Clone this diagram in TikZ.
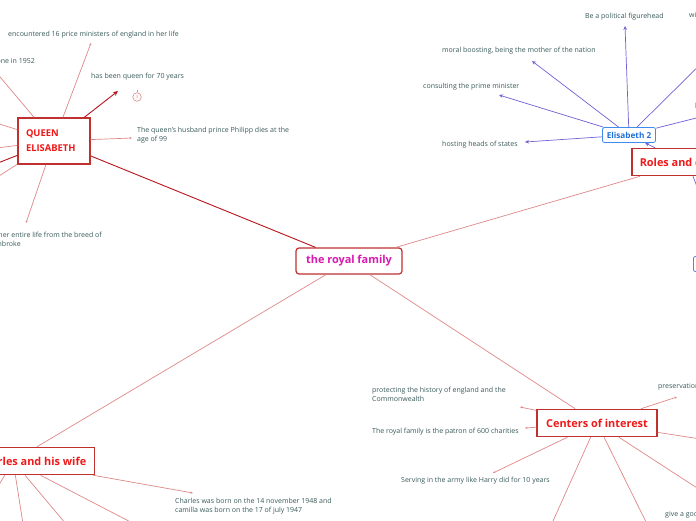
\documentclass[tikz,border=0pt]{standalone}
\usepackage{fontspec}
\setmainfont{Open Sans}
\usetikzlibrary{arrows.meta}
\definecolor{txt}{HTML}{3A5A5A}
\definecolor{lred}{HTML}{E08888}
\definecolor{dred}{HTML}{B8141C}
\definecolor{boxred}{HTML}{C0302F}
\definecolor{redtxt}{HTML}{F01818}
\definecolor{mag}{HTML}{D81AB0}
\definecolor{purp}{HTML}{7262D4}
\definecolor{bblue}{HTML}{3D8DF0}
\definecolor{btxt}{HTML}{1E6FD9}
\begin{document}
\begin{tikzpicture}[x=1pt,y=-1pt,
  lbl/.style={font=\fontsize{7}{9}\selectfont, text=txt, inner sep=0pt, align=left},
  mainbox/.style={draw=boxred, line width=1.5pt, fill=white, font=\fontsize{10.9}{12}\selectfont\bfseries, text=redtxt, minimum height=27pt, inner xsep=8pt},
  rootbox/.style={draw=boxred, line width=1.2pt, rounded corners=3pt, fill=white, font=\fontsize{10.9}{12}\selectfont\bfseries, text=mag, minimum height=26pt, minimum width=106pt},
  qbox/.style={draw=boxred, line width=1.5pt, fill=white, font=\fontsize{9.4}{15}\selectfont\bfseries, text=redtxt, minimum height=46pt, text width=56pt, inner xsep=8pt, align=left},
  bluebox/.style={draw=bblue, line width=0.8pt, rounded corners=2pt, fill=white, font=\fontsize{8.2}{9}\selectfont\bfseries, text=btxt, minimum height=15pt, inner xsep=4pt},
  lline/.style={draw=lred, line width=0.7pt},
  larrow/.style={lline, -{Stealth[length=2.5pt,width=2.2pt]}},
  darrow/.style={draw=dred, line width=0.9pt},
  parrow/.style={draw=purp, line width=0.7pt, -{Stealth[length=4pt,width=3.6pt]}},
]
\useasboundingbox (0,0) rectangle (696,520);
\clip (0,0) rectangle (696,520);
\fill[white] (0,0) rectangle (696,520);

% ---------- main nodes ----------
\node[rootbox] (root) at (349,261) {the royal family};
\node[qbox] (queen) at (54,141) {QUEEN\\ELISABETH};
\node[mainbox, anchor=west] (roles) at (631,162) {Roles and duties};
\node[bluebox, minimum width=53pt] (eli) at (629,135) {Elisabeth 2};
\node[bluebox, anchor=west] (sub) at (693,264) {Prince Charles};
\node[mainbox, minimum width=120pt] (centers) at (597,423) {Centers of interest};
\node[mainbox, anchor=east] (charles) at (95,461) {Prince Charles and his wife};

% ---------- labels ----------
\node[lbl, anchor=west] (tenc) at (8,35) {encountered 16 price ministers of england in her life};
\node[lbl, anchor=east] (tthrone) at (35,61) {ascended the throne in 1952};
\node[lbl, anchor=west] (t70) at (91,77) {has been queen for 70 years};
\node[lbl, anchor=north west] (thus) at (137,126.5) {The queen's husband prince Philipp dies at the\\age of 99};
\node[lbl, anchor=north west] (tcorgi) at (-51,231.5) {She had corgis her entire life from the breed of\\Welsh Corgi Penbroke};
\node[draw=lred, circle, minimum size=8.5pt, inner sep=0pt, line width=0.6pt, font=\fontsize{4}{4}\selectfont, text=lred] (badge) at (137,97) {3};

\node[lbl, anchor=west] (tfigure) at (585,17) {Be a political figurehead};
\node[lbl, anchor=west] (twi) at (689,16) {with the government};
\node[lbl, anchor=west] (tmoral) at (442,51) {moral boosting, being the mother of the nation};
\node[lbl, anchor=west] (tconsult) at (423,87) {consulting the prime minister};
\node[lbl, anchor=west] (thost) at (442,145) {hosting heads of states};
\node[lbl, anchor=west] (tlead) at (695,107) {leading the Church of England};

\node[lbl, anchor=north west] (tprot) at (372,386.5) {protecting the history of england and the\\Commonwealth};
\node[lbl, anchor=west] (tchar) at (372,432) {The royal family is the patron of 600 charities};
\node[lbl, anchor=west] (tarmy) at (401,481) {Serving in the army like Harry did for 10 years};
\node[lbl, anchor=west] (tpres) at (658,387) {preservation of the environment};
\node[lbl, anchor=west] (tgive) at (665,515) {give a good image};

\node[lbl, anchor=north west] (tborn) at (175,497.5) {Charles was born on the 14 november 1948 and\\camilla was born on the 17 of july 1947};

% ---------- free ends ----------
\coordinate (q1) at (91,43);
\coordinate (q2) at (-10,65);
\coordinate (q3) at (118,91);
\coordinate (q4) at (132,138);
\coordinate (q5) at (26,223);
\coordinate (q6) at (-20,118);
\coordinate (q7) at (-20,150);
\coordinate (q8) at (-20,170);
\coordinate (q9) at (-20,188);

\coordinate (e1) at (625,26);
\coordinate (e2) at (532,61);
\coordinate (e3) at (499,95);
\coordinate (e4) at (525,142);
\coordinate (e5) at (720,45);
\coordinate (e6) at (720,112);

\coordinate (c1) at (677,397);
\coordinate (c2) at (720,442);
\coordinate (c3) at (520,407);
\coordinate (c4) at (525,428);
\coordinate (c5) at (493,473);
\coordinate (c6) at (549,530);
\coordinate (c7) at (650,530);
\coordinate (c8) at (711,497);

\coordinate (h1) at (193,493);
\coordinate (h2) at (146,530);
\coordinate (h3) at (71,530);
\coordinate (h4) at (24,530);
\coordinate (h5) at (-7,495);

% ---------- connectors ----------
\draw[darrow] (root) -- (queen);
\draw[lline] (root) -- ([xshift=9pt]roles.south west);
\draw[lline] (root) -- (centers);
\draw[lline] ([xshift=-23pt]root.south) -- (charles);

\draw[larrow] (queen) -- (q1);
\draw[lline] (queen) -- (q2);
\draw[darrow, -{Stealth[length=5pt,width=4.5pt]}] (queen) -- (q3);
\draw[larrow] (queen) -- (q4);
\draw[larrow] (queen) -- (q5);
\draw[lline] (queen) -- (q6);
\draw[lline] (queen) -- (q7);
\draw[darrow] (queen) -- (q8);
\draw[lline] (queen) -- (q9);
\draw[lline, line width=0.6pt] (badge.north) -- ++(0,-2);

\draw[parrow] ([xshift=24pt]roles.north west) -- (eli);
\draw[parrow] ([xshift=62pt]roles.south west) -- (sub);
\draw[parrow] (eli) -- (e1);
\draw[parrow] (eli) -- (e2);
\draw[parrow] (eli) -- (e3);
\draw[parrow] (eli) -- (e4);
\draw[draw=purp, line width=0.7pt] (eli) -- (e5);
\draw[draw=purp, line width=0.7pt] (eli) -- (e6);

\draw[larrow] (centers) -- (c1);
\draw[lline] (centers) -- (c2);
\draw[larrow] (centers) -- (c3);
\draw[larrow] (centers) -- (c4);
\draw[larrow] (centers) -- (c5);
\draw[lline] (centers) -- (c6);
\draw[lline] (centers) -- (c7);
\draw[lline] (centers) -- (c8);

\draw[larrow] (charles) -- (h1);
\draw[lline] (charles) -- (h2);
\draw[lline] (charles) -- (h3);
\draw[lline] (charles) -- (h4);
\draw[lline] (charles) -- (h5);
\end{tikzpicture}
\end{document}
